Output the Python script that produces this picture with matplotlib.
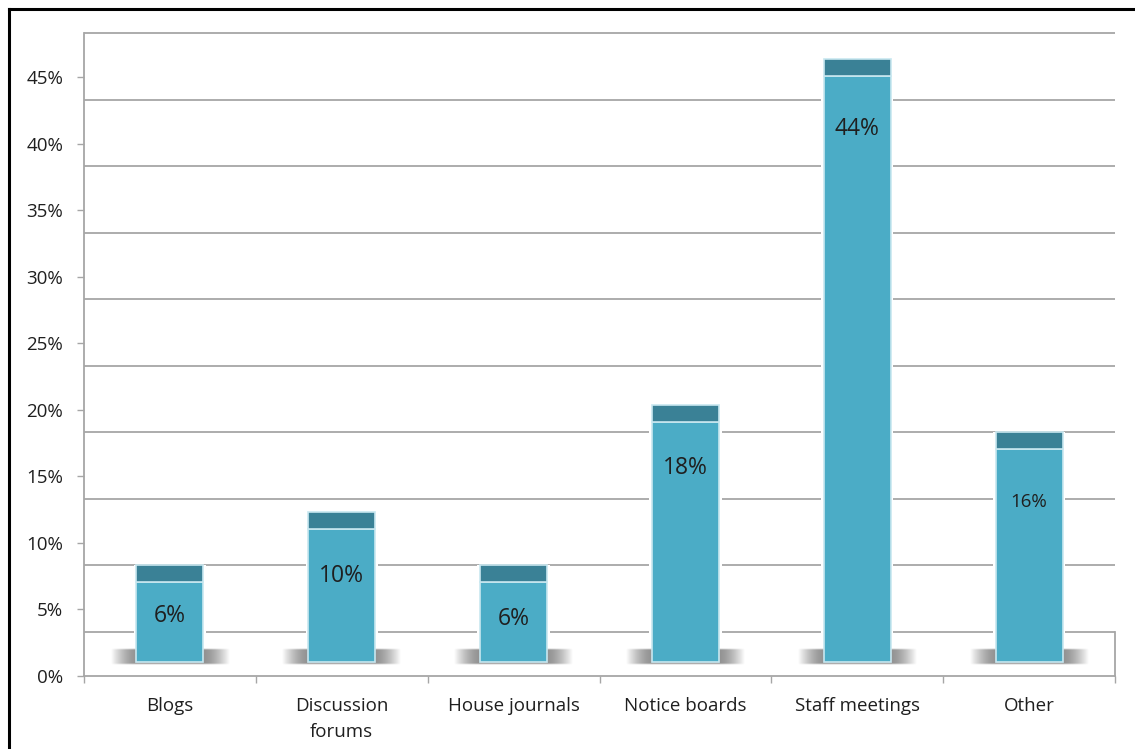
import numpy as np
import matplotlib
matplotlib.use("Agg")
import matplotlib.pyplot as plt
from matplotlib.lines import Line2D

# ---- data -------------------------------------------------------------
categories = ["Blogs", "Discussion\nforums", "House journals",
              "Notice boards", "Staff meetings", "Other"]
shares = [6, 10, 6, 18, 44, 16]
share_labels = ["6%", "10%", "6%", "18%", "44%", "16%"]
y_ticks = [0, 5, 10, 15, 20, 25, 30, 35, 40, 45]
y_tick_labels = [f"{t}%" for t in y_ticks]

# ---- style ------------------------------------------------------------
plt.rcParams['font.family'] = ['Open Sans', 'DejaVu Sans']
TEXT = '#1f1f1f'
GRID = '#a6a6a6'
FACE = '#4bacc6'
TOP = '#3a8196'
EDGE = '#c8e7f0'

W, H = 1135, 749
fig = plt.figure(figsize=(W / 100, H / 100), dpi=100)

# plot area in pixels
x_left, x_right = 84, 1115
y_base, y_top = 676, 33
ax = fig.add_axes([x_left / W, 1 - y_base / H,
                   (x_right - x_left) / W, (y_base - y_top) / H])

wall_px = 44                       # depth shift of the back wall
n = len(categories)
ymax_px = y_base - y_top
px = (ymax_px - wall_px) / 45.0    # pixels per percentage point
wall = wall_px / px
ax.set_xlim(0, n)
ax.set_ylim(0, ymax_px / px)

# back-wall gridlines and floor
for t in y_ticks:
    ax.plot([0, n], [t + wall, t + wall], color=GRID, lw=1.3,
            zorder=1, clip_on=False, solid_capstyle='butt')
ax.plot([n, n], [0, wall], color=GRID, lw=1.3, zorder=1, clip_on=False)

centers = np.arange(n) + 0.5
bar_w = 0.39
base = 14 / px          # bars stand mid-depth on the floor
cap = 17 / px           # visible top face of each column

# white halo so gridlines stop short of the columns
ax.bar(centers, np.array(shares) + cap, width=bar_w + 0.03, bottom=base,
       color='white', lw=0, zorder=1.5)

# soft floor shadows beside each column
sh_lo, sh_hi = 11 / px, 28 / px
half = 0.345
xs = np.linspace(-half, half, 240)
ys = np.linspace(0, 1, 40)
dist = np.clip((np.abs(xs) - bar_w / 2) / (half - bar_w / 2), 0, 1)
a_x = 1 - dist ** 1.6
a_y = np.clip(np.minimum(ys, 1 - ys) / 0.1, 0, 1)
alpha = np.outer(a_y, a_x) * 0.85
img = np.zeros((len(ys), len(xs), 4))
img[..., :3] = 0.5
img[..., 3] = alpha
for c in centers:
    ax.imshow(img, extent=[c - half, c + half, sh_lo, sh_hi], aspect='auto',
              interpolation='bilinear', zorder=2, origin='lower')

# columns: front face and darker top face
ax.bar(centers, shares, width=bar_w, bottom=base, color=FACE,
       edgecolor=EDGE, lw=1.2, zorder=3)
ax.bar(centers, [cap] * n, width=bar_w, bottom=base + np.array(shares),
       color=TOP, edgecolor=EDGE, lw=1.2, zorder=3)

# value labels
drops = [34, 47, 37, 46, 53, 53]
sizes = [16.5, 16.5, 16.5, 16.5, 16.5, 13.5]
for c, v, lbl, d, s in zip(centers, shares, share_labels, drops, sizes):
    ax.annotate(lbl, (c, base + v), xytext=(0, -d * 0.72),
                textcoords='offset points', ha='center', va='center',
                fontsize=s, color=TEXT, zorder=4)

# axes
for side in ('top', 'right'):
    ax.spines[side].set_visible(False)
for side in ('left', 'bottom'):
    ax.spines[side].set_color(GRID)
    ax.spines[side].set_linewidth(1.3)

ax.set_yticks(y_ticks)
ax.set_yticklabels(y_tick_labels)
ax.tick_params(axis='y', length=5, width=1, color=GRID, pad=10,
               labelsize=13.5, labelcolor=TEXT)

ax.set_xticks(np.arange(n + 1))
ax.set_xticklabels([])
ax.set_xticks(centers, minor=True)
ax.set_xticklabels(categories, minor=True, linespacing=1.6)
ax.tick_params(axis='x', which='major', length=5, width=1, color=GRID)
ax.tick_params(axis='x', which='minor', length=0, pad=15,
               labelsize=13.5, labelcolor=TEXT)

# outer frame
fig.add_artist(Line2D([8.5 / W, 8.5 / W], [0, 1 - 8.5 / H],
                      transform=fig.transFigure, color='black', lw=2.2))
fig.add_artist(Line2D([8.5 / W, 1], [1 - 8.5 / H, 1 - 8.5 / H],
                      transform=fig.transFigure, color='black', lw=2.2))

fig.savefig("out.png", dpi=100, facecolor='white')
